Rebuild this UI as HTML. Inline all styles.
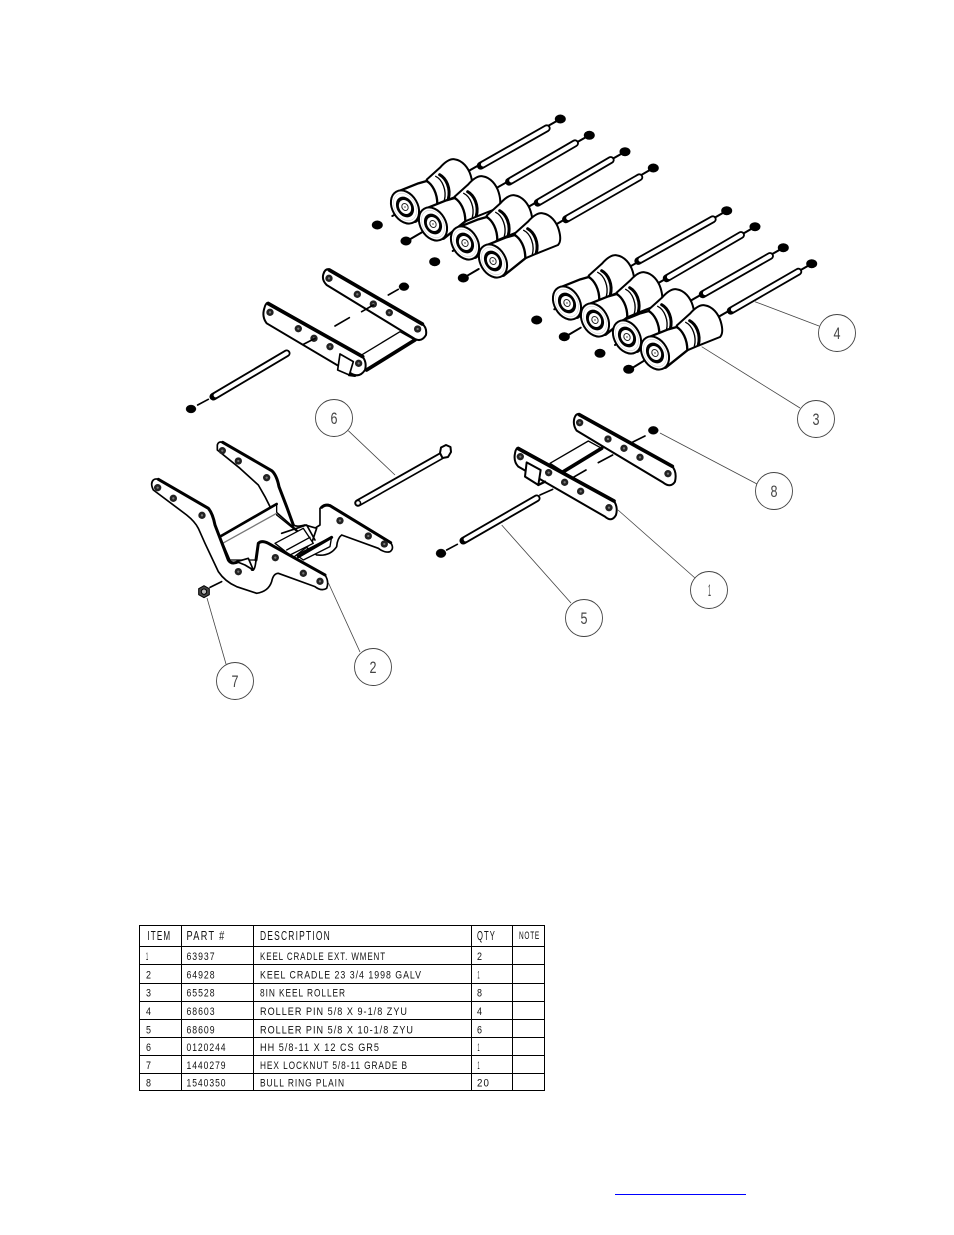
<!DOCTYPE html>
<html><head><meta charset="utf-8"><title>Keel cradle parts diagram</title>
<style>
html,body{margin:0;padding:0;background:#fff}
svg{display:block}
text{font-family:"Liberation Sans",sans-serif;fill:#111}
.c{fill:#fff;stroke:#444;stroke-width:.9}
.l{stroke:#444;stroke-width:.8;fill:none}
.n{font-size:17px;fill:#444}
.t{font-size:10.7px;letter-spacing:1.2px;fill:#111}
.h{font-size:12.6px;letter-spacing:1.8px;fill:#111}
</style></head><body>
<svg width="954" height="1235" viewBox="0 0 954 1235" xmlns="http://www.w3.org/2000/svg">
<defs>
<g id="roller" transform="scale(.3333)" stroke="#000" stroke-linejoin="round" stroke-linecap="round" fill="#fff">
<path stroke-width="6" d="M65,-82 L105,-118 C120,-135 135,-146 150,-143 C172,-140 190,-118 197,-95 C203,-75 205,-58 195,-48 L125,-20 L97,-8 Z"/>
<path fill="none" stroke-width="9" d="M104,-97 C124,-86 138,-55 130,-24"/>
<path fill="none" stroke-width="4" d="M92,-92 C112,-82 126,-50 118,-20"/>
<path stroke-width="7" d="M-20,-47 L40,-71 L65,-78 C82,-68 97,-42 97,-8 L32,44 L10,46 Z"/>
<ellipse rx="53" ry="38" transform="rotate(60)" stroke-width="6"/>
<ellipse rx="44" ry="31" transform="rotate(60)" stroke-width="1" stroke="#aaa"/>
<ellipse rx="33" ry="25" transform="rotate(60)" stroke="none" fill="#000"/>
<ellipse rx="22" ry="17" transform="rotate(60)" stroke="none"/>
<ellipse rx="11" ry="9" transform="rotate(60)" stroke-width="3" stroke="#222"/>
<circle r="2" fill="#000" stroke="none"/>
</g>
<g id="hole"><circle r="11" fill="#222" stroke="none"/><circle r="3.5" fill="#777" stroke="none"/></g>
</defs>

<!-- Rods -->
<g stroke-linecap="round" fill="none">
<g stroke="#000" stroke-width="2">
<path d="M560.3,119 L405,207M589.3,135.3 L433,224M625,151.7 L465,243M653.3,168 L493,261"/>
<path d="M726.7,210.7 L567,303M755,226.7 L595,320M783.3,247.7 L627,337M811.7,263.7 L655,353"/>
</g>
<g stroke="#000" stroke-width="7.8">
<path d="M480.7,165.7 L546.7,128.3M509,181.7 L575,143.3M537.7,202.7 L610.7,160M566,219.3 L639.3,177.3"/>
<path d="M638.3,261 L712.7,219.3M666.7,278.3 L741,235M702.7,294.3 L770,256M730.7,310.7 L798.3,271.7"/>
</g>
<g stroke="#fff" stroke-width="4.2">
<path d="M483,164.4 L546.7,128.3M511.3,180.4 L575,143.3M540,201.4 L610.7,160M568.3,218 L639.3,177.3"/>
<path d="M640.6,259.7 L712.7,219.3M669,277 L741,235M705,293 L770,256M733,309.4 L798.3,271.7"/>
</g>
</g>
<g fill="#000">
<ellipse cx="560.3" cy="119" rx="5.5" ry="4.5"/><ellipse cx="589.3" cy="135.3" rx="5.5" ry="4.5"/><ellipse cx="625" cy="151.7" rx="5.5" ry="4.5"/><ellipse cx="653.3" cy="168" rx="5.5" ry="4.5"/>
<ellipse cx="726.7" cy="210.7" rx="5.5" ry="4.5"/><ellipse cx="755" cy="226.7" rx="5.5" ry="4.5"/><ellipse cx="783.3" cy="247.7" rx="5.5" ry="4.5"/><ellipse cx="811.7" cy="263.7" rx="5.5" ry="4.5"/>
<ellipse cx="377.3" cy="225" rx="5.5" ry="4.5"/><ellipse cx="406" cy="241" rx="5.5" ry="4.5"/><ellipse cx="434.7" cy="261.7" rx="5.5" ry="4.5"/><ellipse cx="463.3" cy="278" rx="5.5" ry="4.5"/>
<ellipse cx="536.7" cy="320" rx="5.5" ry="4.5"/><ellipse cx="564.3" cy="336.7" rx="5.5" ry="4.5"/><ellipse cx="600" cy="353.3" rx="5.5" ry="4.5"/><ellipse cx="628.7" cy="369.3" rx="5.5" ry="4.5"/>
</g>
<path stroke="#000" stroke-width="2" fill="none" stroke-linecap="round" d="M392.3,216 L397,213.5M410,239.3 L422,232.3M452.7,251 L457,248.3M467.3,275.7 L478.7,269M554.3,309.3 L559,306.7M568.3,335 L580.7,327.7M615,345 L619.5,342.3M632.7,367.7 L644.7,360.3"/>

<use href="#roller" x="405" y="207"/>
<use href="#roller" x="433" y="224"/>
<use href="#roller" x="465" y="243"/>
<use href="#roller" x="493" y="261"/>
<use href="#roller" x="567" y="303"/>
<use href="#roller" x="595" y="320"/>
<use href="#roller" x="627" y="337"/>
<use href="#roller" x="655" y="353"/>

<!-- Extension A -->
<g transform="translate(170,255) scale(.3333)" stroke="#000" stroke-linejoin="round" stroke-linecap="round" fill="#fff">
<path stroke-width="4" d="M575,300 L690,230 L735,255 L590,345 Z"/>
<path stroke-width="11" fill="none" d="M590,345 L735,255"/>
<path stroke-width="6" d="M478,43 L755,205 Q772,218 768,240 Q755,262 735,252 L470,90 Q455,75 460,58 Q465,40 478,43Z"/>
<path stroke-width="11" fill="none" d="M478,45 L757,207"/>
<path stroke-width="6" d="M295,143 L575,302 Q592,320 585,345 Q570,368 548,358 L290,205 Q275,185 283,160 Q287,143 295,143Z"/>
<path stroke-width="11" fill="none" d="M295,146 L578,305"/>
<path stroke-width="5" d="M510,297 L550,320 L538,360 L503,345Z"/>
<path stroke-width="8" fill="none" d="M538,360 L555,362"/>
<use href="#hole" x="477" y="70"/><use href="#hole" x="562" y="118"/><use href="#hole" x="610" y="147"/><use href="#hole" x="658" y="173"/><use href="#hole" x="743" y="222"/>
<use href="#hole" x="300" y="172"/><use href="#hole" x="385" y="221"/><use href="#hole" x="432" y="250"/><use href="#hole" x="480" y="275"/><use href="#hole" x="566" y="325"/>
<path stroke-width="5" fill="none" d="M495,213 L538,188M655,120 L685,103M575,170 L610,150M400,268 L435,250M83,450 L115,433"/>
<ellipse cx="702" cy="95" rx="15" ry="12" fill="#000"/>
<ellipse cx="63" cy="462" rx="15" ry="12" fill="#000"/>
<path stroke-width="23" fill="none" d="M130,425 L350,295"/>
<path stroke="#fff" stroke-width="12" fill="none" d="M137,421 L350,295"/>
</g>

<!-- Extension B -->
<g transform="translate(430,400) scale(.3333)" stroke="#000" stroke-linejoin="round" stroke-linecap="round" fill="#fff">
<path stroke-width="4" d="M360,190 L475,123 L515,145 L400,215 Z"/>
<path stroke-width="11" fill="none" d="M400,215 L515,145"/>
<path stroke-width="6" d="M448,42 L725,197 Q742,215 735,245 Q722,265 700,248 L440,92 Q428,75 433,55 Q438,40 448,42Z"/>
<path stroke-width="11" fill="none" d="M448,44 L727,199"/>
<path stroke-width="6" d="M265,143 L550,300 Q565,320 558,345 Q545,368 525,350 L265,200 Q250,185 255,160 Q258,143 265,143Z"/>
<path stroke-width="11" fill="none" d="M265,146 L552,303"/>
<path stroke-width="6" d="M290,187 L332,210 L325,255 L285,230Z"/>
<path stroke-width="7" fill="none" d="M325,255 L345,245"/>
<use href="#hole" x="449" y="68"/><use href="#hole" x="534" y="117"/><use href="#hole" x="582" y="145"/><use href="#hole" x="630" y="172"/><use href="#hole" x="714" y="221"/>
<use href="#hole" x="271" y="170"/><use href="#hole" x="356" y="218"/><use href="#hole" x="404" y="247"/><use href="#hole" x="452" y="274"/><use href="#hole" x="537" y="323"/>
<path stroke-width="5" fill="none" d="M505,188 L548,165M430,232 L468,210M605,128 L645,108M50,450 L82,433M330,285 L368,268"/>
<ellipse cx="670" cy="91" rx="15" ry="12" fill="#000"/>
<ellipse cx="33" cy="460" rx="15" ry="13" fill="#000"/>
<path stroke-width="23" fill="none" d="M100,422 L320,295"/>
<path stroke="#fff" stroke-width="12" fill="none" d="M107,418 L320,295"/>
</g>

<!-- Bolt 6 -->
<g stroke="#000" fill="none" stroke-linecap="round">
<path stroke-width="7.5" d="M358,503 L441,456"/>
<path stroke="#fff" stroke-width="4" d="M361,501.4 L443,455"/>
<path d="M440,453 L441,447.5 L446,445 L450.5,447 L451,452 L448,457 L442.5,458Z" stroke-width="2" fill="#fff" stroke-linejoin="round"/>
<circle cx="358" cy="503" r="2.5" stroke-width="1.5" fill="#fff"/>
</g>

<!-- Cradle -->
<g transform="translate(130,400) scale(.3333)" stroke="#000" stroke-linejoin="round" stroke-linecap="round" fill="#fff">
<path stroke-width="5" d="M570,325 Q585,310 600,315 L780,425 Q795,445 780,455 Q765,460 745,445 L635,405 Q622,415 620,440 Q600,470 560,465 L500,420 L570,375Z"/>
<path stroke-width="9" fill="none" d="M575,322 Q585,312 600,317 L782,428"/>
<use href="#hole" x="630" y="362"/><use href="#hole" x="715" y="408"/><use href="#hole" x="763" y="432"/>
<path stroke-width="5" d="M262,135 Q265,123 278,127 L425,212 Q440,225 447,260 L470,320 L490,375 Q500,382 525,375 L560,385 L545,430 L420,320 L405,290 L385,255 L330,205 L262,150Z"/>
<path stroke-width="9" fill="none" d="M278,127 L425,212 Q440,225 447,260 L470,320 L490,375"/>
<use href="#hole" x="277" y="152"/><use href="#hole" x="325" y="183"/><use href="#hole" x="410" y="233"/>
<path stroke-width="4" d="M270,410 L440,312 L440,345 L545,430 L480,480 L300,480Z"/>
<path stroke-width="8" fill="none" d="M270,410 L440,312"/>
<path stroke="#777" stroke-width="4" fill="none" d="M278,430 L440,340"/>
<path stroke-width="4" d="M435,430 L520,385 L550,430 L480,465Z"/>
<path stroke-width="4" fill="none" d="M470,450 L540,412"/>
<path stroke-width="4" d="M500,465 L605,410 L600,440 L520,480Z"/>
<path stroke-width="9" fill="none" d="M505,470 L605,412"/>
<path stroke-width="5" fill="none" d="M455,400 L500,385 L530,375 L555,420"/>
<path stroke-width="5" d="M70,240 Q75,235 85,238 L235,325 Q248,340 255,375 L280,440 L295,480 Q305,495 325,485 L355,480 L365,510 Q375,515 378,480 L385,430 Q395,420 415,430 L585,525 Q598,545 590,565 Q575,575 555,560 L445,520 Q430,520 425,545 Q415,575 380,580 L320,560 Q285,545 265,515 L225,430 L205,385 Q195,365 170,345 L70,270 Q60,250 70,240Z"/>
<path stroke-width="9" fill="none" d="M85,238 L235,325 Q248,340 255,375 L280,440 L295,480 Q305,495 325,485"/>
<path stroke-width="9" fill="none" d="M378,480 L385,430 Q395,420 415,430 L585,525"/>
<path stroke-width="5" fill="#fff" d="M320,485 L355,475 L370,510 L345,495Z"/>
<use href="#hole" x="83" y="263"/><use href="#hole" x="130" y="295"/><use href="#hole" x="216" y="346"/><use href="#hole" x="436" y="473"/><use href="#hole" x="520" y="520"/><use href="#hole" x="570" y="544"/><use href="#hole" x="325" y="515"/>
<path stroke-width="5" fill="none" d="M240,562 L275,545"/>
<path d="M222,557 L238,566 L238,584 L222,593 L206,584 L206,566Z" fill="#444" stroke-width="3"/><circle cx="222" cy="575" r="8" fill="#bbb" stroke="#000" stroke-width="3"/>
</g>

<!-- Leaders -->
<g>
<path class="l" d="M348.3,430.7 L395,475M226,664 L207,598M360,652 L328,582M571,603 L501.7,525M695,578 L618,510M757,484 L660,433M800,408 L701.7,346.7M819,326 L755,301.7"/>
<circle class="c" cx="334" cy="418" r="18.5"/><circle class="c" cx="235" cy="681" r="18.5"/><circle class="c" cx="373" cy="667" r="18.5"/><circle class="c" cx="584" cy="618" r="18.5"/><circle class="c" cx="709" cy="590" r="18.5"/><circle class="c" cx="774" cy="491" r="18.5"/><circle class="c" cx="816" cy="419" r="18.5"/><circle class="c" cx="837" cy="333" r="18.5"/>
<text class="n" x="330.5" y="424" textLength="7" lengthAdjust="spacingAndGlyphs">6</text><text class="n" x="231.5" y="687" textLength="7" lengthAdjust="spacingAndGlyphs">7</text><text class="n" x="369.5" y="673" textLength="7" lengthAdjust="spacingAndGlyphs">2</text><text class="n" x="580.5" y="624" textLength="7" lengthAdjust="spacingAndGlyphs">5</text><text class="n" x="708" y="596" textLength="3" lengthAdjust="spacingAndGlyphs">1</text><text class="n" x="770.5" y="497" textLength="7" lengthAdjust="spacingAndGlyphs">8</text><text class="n" x="812.5" y="425" textLength="7" lengthAdjust="spacingAndGlyphs">3</text><text class="n" x="833.5" y="339" textLength="7" lengthAdjust="spacingAndGlyphs">4</text>
</g>

<!-- Table -->
<g fill="none" stroke="#000" stroke-width="1">
<rect x="139.5" y="925.5" width="405" height="165"/>
<path d="M181.5,925.5V1090.5M253.5,925.5V1090.5M471.5,925.5V1090.5M512.5,925.5V1090.5"/>
<path d="M139.5,946.5H544.5M139.5,964.5H544.5M139.5,983.5H544.5M139.5,1001.5H544.5M139.5,1019.5H544.5M139.5,1037.5H544.5M139.5,1055.5H544.5M139.5,1073.5H544.5"/>
</g>
<g>
<text class="h" x="147.3" y="940" textLength="24" lengthAdjust="spacingAndGlyphs">ITEM</text>
<text class="h" x="186.5" y="940" textLength="39" lengthAdjust="spacingAndGlyphs">PART #</text>
<text class="h" x="260" y="940" textLength="71" lengthAdjust="spacingAndGlyphs">DESCRIPTION</text>
<text class="h" x="477" y="940" textLength="19" lengthAdjust="spacingAndGlyphs">QTY</text>
<text class="t" x="519" y="939" textLength="21" lengthAdjust="spacingAndGlyphs">NOTE</text>

<text class="t" x="146" y="960" textLength="2.5" lengthAdjust="spacingAndGlyphs">1</text><text class="t" x="186.5" y="960" textLength="29" lengthAdjust="spacingAndGlyphs">63937</text><text class="t" x="260" y="960" textLength="126" lengthAdjust="spacingAndGlyphs">KEEL CRADLE EXT. WMENT</text><text class="t" x="477" y="960" textLength="6" lengthAdjust="spacingAndGlyphs">2</text>
<text class="t" x="146" y="978.3" textLength="6" lengthAdjust="spacingAndGlyphs">2</text><text class="t" x="186.5" y="978.3" textLength="29" lengthAdjust="spacingAndGlyphs">64928</text><text class="t" x="260" y="978.3" textLength="162" lengthAdjust="spacingAndGlyphs">KEEL CRADLE 23 3/4 1998 GALV</text><text class="t" x="477.5" y="978.3" textLength="2.5" lengthAdjust="spacingAndGlyphs">1</text>
<text class="t" x="146" y="996.7" textLength="6" lengthAdjust="spacingAndGlyphs">3</text><text class="t" x="186.5" y="996.7" textLength="29" lengthAdjust="spacingAndGlyphs">65528</text><text class="t" x="260" y="996.7" textLength="86" lengthAdjust="spacingAndGlyphs">8IN KEEL ROLLER</text><text class="t" x="477" y="996.7" textLength="6" lengthAdjust="spacingAndGlyphs">8</text>
<text class="t" x="146" y="1015" textLength="6" lengthAdjust="spacingAndGlyphs">4</text><text class="t" x="186.5" y="1015" textLength="29" lengthAdjust="spacingAndGlyphs">68603</text><text class="t" x="260" y="1015" textLength="148" lengthAdjust="spacingAndGlyphs">ROLLER PIN 5/8 X 9-1/8 ZYU</text><text class="t" x="477" y="1015" textLength="6" lengthAdjust="spacingAndGlyphs">4</text>
<text class="t" x="146" y="1033.3" textLength="6" lengthAdjust="spacingAndGlyphs">5</text><text class="t" x="186.5" y="1033.3" textLength="29" lengthAdjust="spacingAndGlyphs">68609</text><text class="t" x="260" y="1033.3" textLength="154" lengthAdjust="spacingAndGlyphs">ROLLER PIN 5/8 X 10-1/8 ZYU</text><text class="t" x="477" y="1033.3" textLength="6" lengthAdjust="spacingAndGlyphs">6</text>
<text class="t" x="146" y="1051" textLength="6" lengthAdjust="spacingAndGlyphs">6</text><text class="t" x="186.5" y="1051" textLength="40" lengthAdjust="spacingAndGlyphs">0120244</text><text class="t" x="260" y="1051" textLength="120" lengthAdjust="spacingAndGlyphs">HH 5/8-11 X 12 CS GR5</text><text class="t" x="477.5" y="1051" textLength="2.5" lengthAdjust="spacingAndGlyphs">1</text>
<text class="t" x="146" y="1069" textLength="6" lengthAdjust="spacingAndGlyphs">7</text><text class="t" x="186.5" y="1069" textLength="40" lengthAdjust="spacingAndGlyphs">1440279</text><text class="t" x="260" y="1069" textLength="148" lengthAdjust="spacingAndGlyphs">HEX LOCKNUT 5/8-11 GRADE B</text><text class="t" x="477.5" y="1069" textLength="2.5" lengthAdjust="spacingAndGlyphs">1</text>
<text class="t" x="146" y="1086.7" textLength="6" lengthAdjust="spacingAndGlyphs">8</text><text class="t" x="186.5" y="1086.7" textLength="40" lengthAdjust="spacingAndGlyphs">1540350</text><text class="t" x="260" y="1086.7" textLength="85" lengthAdjust="spacingAndGlyphs">BULL RING PLAIN</text><text class="t" x="477" y="1086.7" textLength="13" lengthAdjust="spacingAndGlyphs">20</text>
</g>

<rect x="615" y="1194" width="131" height="1" fill="#0000ff"/>
</svg>
</body></html>
